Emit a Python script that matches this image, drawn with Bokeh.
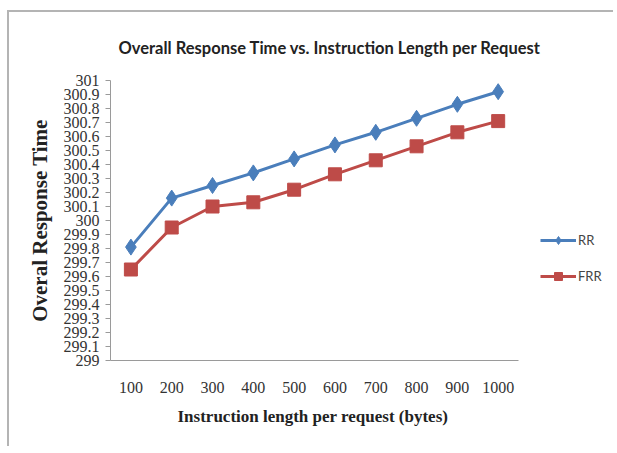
from bokeh.plotting import figure
from bokeh.models import Legend, LegendItem, FixedTicker, Range1d, Title
from bokeh.embed import file_html
from bokeh.resources import INLINE

x_labels = ["100", "200", "300", "400", "500", "600", "700", "800", "900", "1000"]
rr = [299.81, 300.16, 300.25, 300.34, 300.44, 300.54, 300.63, 300.73, 300.83, 300.92]
frr = [299.65, 299.95, 300.10, 300.13, 300.22, 300.33, 300.43, 300.53, 300.63, 300.71]
y_ticks = [299, 299.1, 299.2, 299.3, 299.4, 299.5, 299.6, 299.7, 299.8, 299.9, 300,
           300.1, 300.2, 300.3, 300.4, 300.5, 300.6, 300.7, 300.8, 300.9, 301]
y_labels = ["299", "299.1", "299.2", "299.3", "299.4", "299.5", "299.6", "299.7", "299.8", "299.9", "300",
            "300.1", "300.2", "300.3", "300.4", "300.5", "300.6", "300.7", "300.8", "300.9", "301"]

title_text = "Overall Response Time vs. Instruction Length per Request"
x_title = "Instruction  length per request (bytes)"
y_title = "Overal Response Time"

blue = "#4A7EBB"
red = "#BE4B48"

x_vals = [int(s) for s in x_labels]

p = figure(width=606, height=436, x_range=Range1d(50, 1263), y_range=Range1d(299, 301),
           output_backend="svg", toolbar_location=None,
           min_border_left=101, min_border_right=10, min_border_top=67, min_border_bottom=88)
p.styles = {"border-top": "2px solid #b4b4b4", "border-left": "2px solid #b4b4b4",
            "margin-left": "7px", "margin-top": "10px"}
p.outline_line_color = None
p.xgrid.grid_line_color = None
p.ygrid.grid_line_color = None
p.background_fill_color = "white"
p.border_fill_color = "white"

p.title.text = title_text
p.title.align = "left"
p.title.offset = 8
p.title.standoff = 46
p.title.text_font = "Lato"
p.title.text_font_style = "bold"
p.title.text_font_size = "16.5px"
p.title.text_color = "#222222"

r1l = p.line(x_vals, rr, line_color=blue, line_width=3)
r1m = p.scatter(x_vals, rr, marker="diamond", size=16, fill_color=blue, line_color=blue)
r2l = p.line(x_vals, frr, line_color=red, line_width=3)
r2m = p.scatter(x_vals, frr, marker="square", size=13, fill_color=red, line_color=red)

# y axis
ya = p.yaxis[0]
ya.ticker = FixedTicker(ticks=y_ticks)
ya.major_label_overrides = dict(zip(y_ticks, y_labels))
ya.minor_tick_line_color = None
ya.major_tick_out = 5
ya.major_tick_in = 0
ya.axis_line_color = "#9a9a9a"
ya.major_tick_line_color = "#9a9a9a"
ya.major_label_text_font = "Liberation Serif"
ya.major_label_text_font_size = "16px"
ya.major_label_text_color = "#333333"
ya.major_label_standoff = 6
ya.axis_label = y_title
ya.axis_label_text_font = "Liberation Serif"
ya.axis_label_text_font_style = "bold"
ya.axis_label_text_font_size = "21px"
ya.axis_label_text_color = "#222222"
ya.axis_label_standoff = 9

# x axis
xa = p.xaxis[0]
xa.ticker = FixedTicker(ticks=x_vals)
xa.bounds = (50, 1050)
xa.major_tick_line_color = None
xa.minor_tick_line_color = None
xa.axis_line_color = "#9a9a9a"
xa.major_label_text_font = "Liberation Serif"
xa.major_label_text_font_size = "16px"
xa.major_label_text_color = "#333333"
xa.major_label_standoff = 15

x_axis_title = Title(text=x_title, align="left", offset=67, standoff=19,
                     text_font="Liberation Serif", text_font_style="bold",
                     text_font_size="17px", text_color="#222222")
p.add_layout(x_axis_title, "below")

legend = Legend(items=[LegendItem(label="RR", renderers=[r1l, r1m]),
                       LegendItem(label="FRR", renderers=[r2l, r2m])],
                location=(430, 74), orientation="vertical",
                border_line_color=None, background_fill_alpha=0,
                glyph_width=36, glyph_height=20, spacing=16, padding=0, margin=0,
                label_text_font="Lato", label_text_font_size="13px", label_text_color="#444444",
                label_standoff=2)
p.add_layout(legend, "center")

open("out.html", "w").write(file_html(p, INLINE))
